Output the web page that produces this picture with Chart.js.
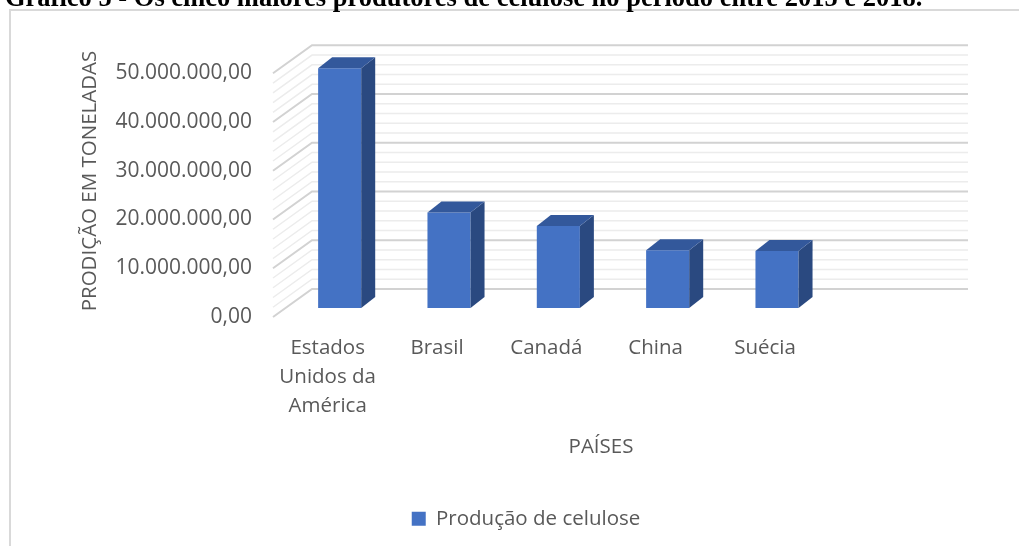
<!DOCTYPE html>
<html lang="pt-BR">
<head>
<meta charset="utf-8">
<title>Produção de celulose</title>
<script src="https://cdn.jsdelivr.net/npm/chart.js@4.4.1/dist/chart.umd.min.js"></script>
<style>
  html, body { margin: 0; padding: 0; background: #fff; width: 1019px; height: 546px; overflow: hidden; }
  .caption {
    position: absolute; left: 5px; top: -16px; z-index: 2;
    font: bold 26.5px/1 "Liberation Serif", "Times New Roman", serif;
    color: #000; white-space: nowrap;
  }
  .chart-box {
    position: absolute; left: 9px; top: 9px;
    width: 1040px; height: 570px;
    border: 2px solid #d9d9d9; background: #fff;
  }
  .chart-box canvas { display: block; }
</style>
</head>
<body>
<div class="caption">Gráfico 5 - Os cinco maiores produtores de celulose no período entre 2015 e 2018.</div>
<div class="chart-box"><canvas id="chart" width="1030" height="560"></canvas></div>

<script>
// ---- data ----
const paises = [['Estados', 'Unidos da', 'América'], 'Brasil', 'Canadá', 'China', 'Suécia'];
const producao = [49200000, 19600000, 16800000, 11850000, 11700000];
const yTicks = [0, 10000000, 20000000, 30000000, 40000000, 50000000];
const minorStep = 2000000;   // light gridlines between the major ones

// ---- look ----
const TEXT = '#595959';
const FONT = 'Open Sans';
const FRONT = '#4472C4';
const SIDE = '#2A4980';
const TOP = '#33589B';

// 3D box: back wall offset, bar front offset and bar depth (px)
const WALL = { dx: 39, dy: 28 };
const BAR_FRONT = { dx: 12, dy: 9 };
const BAR_DEPTH = { dx: 14, dy: 11 };

// room above 50 mi for the wall depth, so the plot box matches the 3D frame
const Y_MAX = 55800000;

function formatBR(v) {
  const [int, dec] = Number(v).toFixed(2).split('.');
  return int.replace(/\B(?=(\d{3})+(?!\d))/g, '.') + ',' + dec;
}

// walls + gridlines behind, then bars pushed into the box with side/top faces
const box3d = {
  id: 'box3d',
  afterLayout(chart) {
    // legend is centred on the whole chart box, not only between the paddings
    chart.legend.left = 0;
    chart.legend.right = chart.width;
  },
  beforeDatasetsDraw(chart) {
    const { ctx, chartArea: { left, right }, scales: { y } } = chart;
    const top = yTicks[yTicks.length - 1];
    ctx.save();
    for (let v = 0; v <= top; v += minorStep) {
      const py = y.getPixelForValue(v);
      const major = v % yTicks[1] === 0;
      ctx.strokeStyle = major ? '#d2d2d2' : '#ececec';
      ctx.lineWidth = major ? 2 : 1.5;
      ctx.beginPath();
      ctx.moveTo(left, py);
      ctx.lineTo(left + WALL.dx, py - WALL.dy);
      ctx.lineTo(right + WALL.dx, py - WALL.dy);
      ctx.stroke();
    }
    ctx.restore();

    ctx.save();
    ctx.translate(BAR_FRONT.dx, -BAR_FRONT.dy);
  },
  afterDatasetsDraw(chart) {
    const { ctx } = chart;
    const { dx, dy } = BAR_DEPTH;
    chart.getDatasetMeta(0).data.forEach(bar => {
      const { x, y, base, width } = bar.getProps(['x', 'y', 'base', 'width'], true);
      const l = x - width / 2;
      const r = x + width / 2;

      ctx.fillStyle = SIDE;
      ctx.beginPath();
      ctx.moveTo(r, y);
      ctx.lineTo(r + dx, y - dy);
      ctx.lineTo(r + dx, base - dy);
      ctx.lineTo(r, base);
      ctx.closePath();
      ctx.fill();

      ctx.fillStyle = TOP;
      ctx.beginPath();
      ctx.moveTo(l, y);
      ctx.lineTo(l + dx, y - dy);
      ctx.lineTo(r + dx, y - dy);
      ctx.lineTo(r, y);
      ctx.closePath();
      ctx.fill();
    });
    ctx.restore();
  }
};

const ctx = document.getElementById('chart').getContext('2d');

new Chart(ctx, {
  type: 'bar',
  data: {
    // the sheet had one empty row after Suécia, it keeps a blank slot on the axis
    labels: paises.concat(['']),
    datasets: [{
      label: 'Produção de celulose',
      data: producao,
      backgroundColor: FRONT,
      borderWidth: 0,
      categoryPercentage: 0.394,
      barPercentage: 1,
      clip: false
    }]
  },
  options: {
    responsive: false,
    animation: false,
    events: [],
    layout: { padding: { left: 63, right: 112, top: 34, bottom: 32 } },
    scales: {
      x: {
        afterFit: s => { s.height = 181.5; },
        grid: { display: false, drawTicks: false },
        border: { display: false },
        ticks: {
          padding: 16,
          color: TEXT,
          maxRotation: 0,
          autoSkip: false,
          font: { family: FONT, size: 20.5, lineHeight: 1.43 }
        },
        title: {
          display: true,
          text: 'PAÍSES',
          color: TEXT,
          font: { family: FONT, size: 20.5 },
          padding: { top: 12, bottom: 39 }
        }
      },
      y: {
        min: 0,
        max: Y_MAX,
        bounds: 'data',
        afterBuildTicks: s => { s.ticks = yTicks.map(value => ({ value })); },
        afterFit: s => { s.width = 199; },
        grid: { display: false, drawTicks: false },
        border: { display: false },
        ticks: {
          padding: 21,
          color: TEXT,
          font: { family: FONT, size: 21 },
          callback: v => formatBR(v)
        },
        title: {
          display: true,
          text: 'PRODIÇÃO EM TONELADAS',
          color: TEXT,
          font: { family: FONT, size: 20.5 },
          padding: { top: 4, bottom: 0 }
        }
      }
    },
    plugins: {
      tooltip: { enabled: false },
      legend: {
        position: 'bottom',
        labels: {
          boxWidth: 14,
          boxHeight: 14,
          padding: 10,
          color: TEXT,
          font: { family: FONT, size: 20.5 }
        }
      }
    }
  },
  plugins: [box3d]
});
</script>
</body>
</html>
